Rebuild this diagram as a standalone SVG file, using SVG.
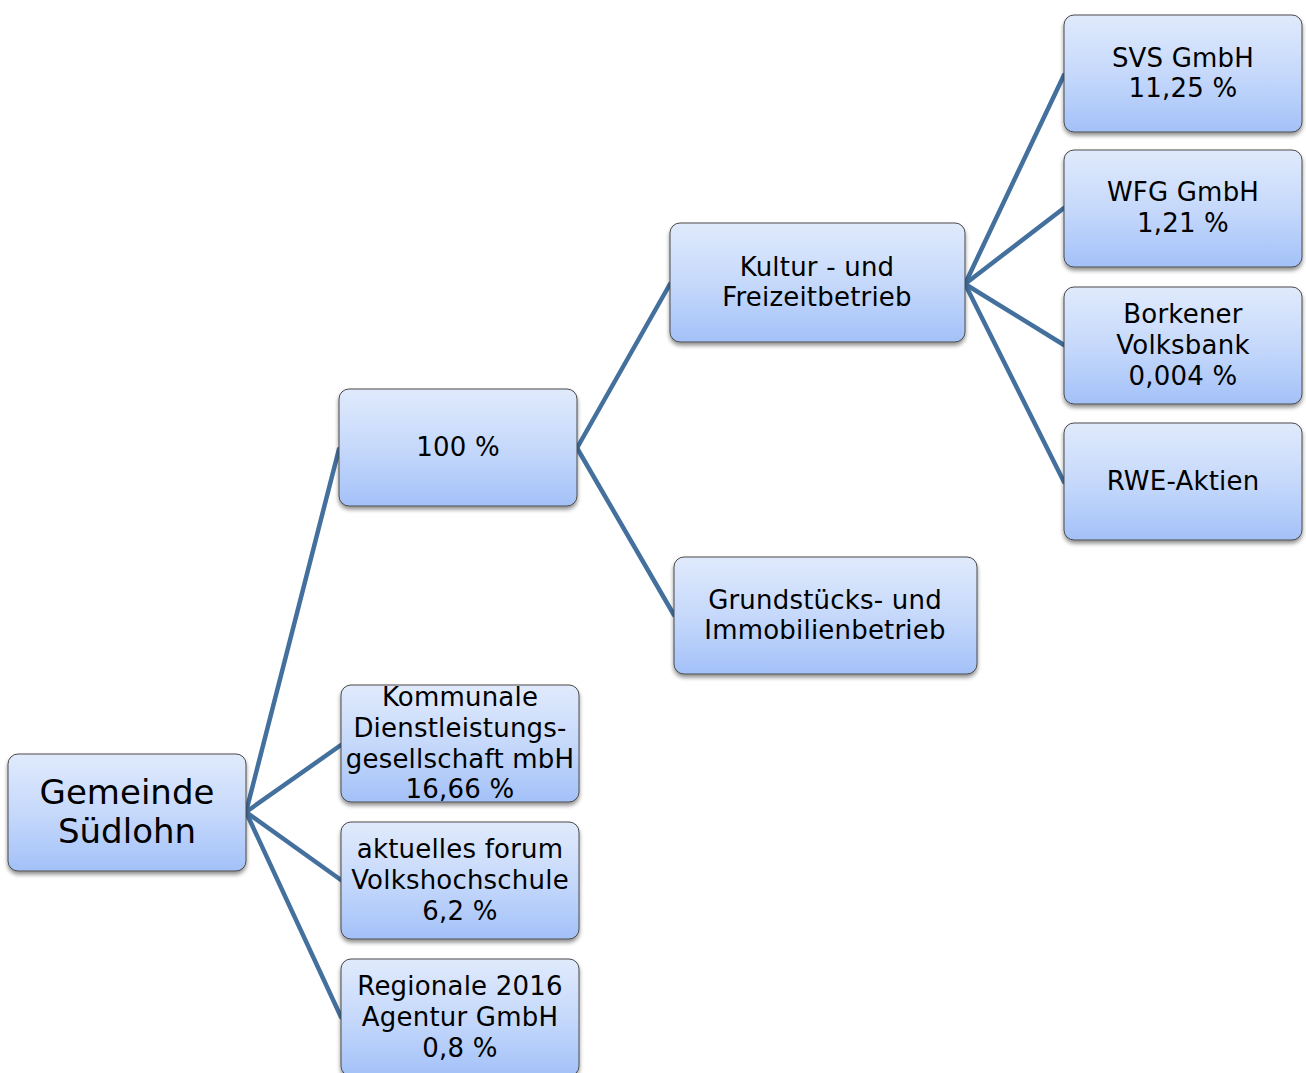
<svg xmlns="http://www.w3.org/2000/svg" width="1306" height="1073" viewBox="0 0 1306 1073">
<style>
.box{fill:url(#g);stroke:#4a4a4a;stroke-width:1;filter:url(#sh)}
.t{font-family:"DejaVu Sans","Liberation Sans",sans-serif;font-size:26px;letter-spacing:0.2px;fill:#000;text-anchor:middle}
.big{font-size:34px;letter-spacing:0}
.c{stroke:#44709E;stroke-width:4.5;fill:none;stroke-linecap:round}
</style>
<defs>
<linearGradient id="g" x1="0" y1="0" x2="0" y2="1">
<stop offset="0" stop-color="#e0eafc"/>
<stop offset="0.5" stop-color="#c6d9fb"/>
<stop offset="1" stop-color="#a3c1f8"/>
</linearGradient>
<filter id="sh" x="-10%" y="-10%" width="120%" height="130%">
<feGaussianBlur in="SourceAlpha" stdDeviation="2"/>
<feOffset dx="0" dy="3" result="b"/>
<feComponentTransfer><feFuncA type="linear" slope="0.45"/></feComponentTransfer>
<feMerge><feMergeNode/><feMergeNode in="SourceGraphic"/></feMerge>
</filter>
</defs>
<g id="connectors">
<line class="c" x1="246" y1="812" x2="339" y2="449"/>
<line class="c" x1="246" y1="812" x2="341" y2="745"/>
<line class="c" x1="246" y1="812" x2="341" y2="880"/>
<line class="c" x1="246" y1="812" x2="341" y2="1017"/>
<line class="c" x1="577" y1="448" x2="670" y2="284"/>
<line class="c" x1="577" y1="448" x2="674" y2="615"/>
<line class="c" x1="965" y1="284" x2="1064" y2="75"/>
<line class="c" x1="965" y1="284" x2="1064" y2="208"/>
<line class="c" x1="965" y1="284" x2="1064" y2="345"/>
<line class="c" x1="965" y1="284" x2="1064" y2="482"/>
</g>
<g id="gemeinde"><rect class="box" x="8" y="754" width="238" height="117" rx="10"/>
<text class="t big" x="127" y="804">Gemeinde</text><text class="t big" x="127" y="843">Südlohn</text></g>
<g id="n100"><rect class="box" x="339" y="389" width="238" height="117" rx="10"/>
<text class="t" x="458" y="456">100 %</text></g>
<g id="kultur"><rect class="box" x="670" y="223" width="295" height="119" rx="10"/>
<text class="t" x="817" y="276">Kultur - und</text><text class="t" x="817" y="306">Freizeitbetrieb</text></g>
<g id="grund"><rect class="box" x="674" y="557" width="303" height="117" rx="10"/>
<text class="t" x="825" y="609">Grundstücks- und</text><text class="t" x="825" y="639">Immobilienbetrieb</text></g>
<g id="svs"><rect class="box" x="1064" y="15" width="238" height="117" rx="10"/>
<text class="t" x="1183" y="67">SVS GmbH</text><text class="t" x="1183" y="97">11,25 %</text></g>
<g id="wfg"><rect class="box" x="1064" y="150" width="238" height="117" rx="10"/>
<text class="t" x="1183" y="201">WFG GmbH</text><text class="t" x="1183" y="232">1,21 %</text></g>
<g id="borkener"><rect class="box" x="1064" y="287" width="238" height="117" rx="10"/>
<text class="t" x="1183" y="323">Borkener</text><text class="t" x="1183" y="354">Volksbank</text><text class="t" x="1183" y="385">0,004 %</text></g>
<g id="rwe"><rect class="box" x="1064" y="423" width="238" height="117" rx="10"/>
<text class="t" x="1183" y="490">RWE-Aktien</text></g>
<g id="kommunale"><rect class="box" x="341" y="685" width="238" height="117" rx="10"/>
<text class="t" x="460" y="706">Kommunale</text><text class="t" x="460" y="737">Dienstleistungs-</text><text class="t" x="460" y="768">gesellschaft mbH</text><text class="t" x="460" y="798">16,66 %</text></g>
<g id="aktuelles"><rect class="box" x="341" y="822" width="238" height="117" rx="10"/>
<text class="t" x="460" y="858">aktuelles forum</text><text class="t" x="460" y="889">Volkshochschule</text><text class="t" x="460" y="920">6,2 %</text></g>
<g id="regionale"><rect class="box" x="341" y="959" width="238" height="117" rx="10"/>
<text class="t" x="460" y="995">Regionale 2016</text><text class="t" x="460" y="1026">Agentur GmbH</text><text class="t" x="460" y="1057">0,8 %</text></g>
</svg>
